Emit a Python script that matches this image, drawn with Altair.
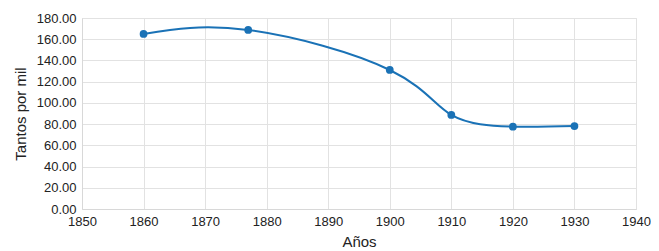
import altair as alt
import pandas as pd

years = [1860, 1877, 1900, 1910, 1920, 1930]
values = [165.0, 168.7, 131.0, 88.6, 77.6, 78.2]

df = pd.DataFrame({"year": years, "value": values})

color = "#1a72b6"
font = "Liberation Sans"

x = alt.X("year:Q", title="Años",
          scale=alt.Scale(domain=[1850, 1940], nice=False, zero=False),
          axis=alt.Axis(values=list(range(1850, 1941, 10)), format="d",
                        labelFontSize=13, titleFontSize=15, titlePadding=6,
                        labelPadding=6, ticks=False, labelFlush=False))
y = alt.Y("value:Q", title="Tantos por mil",
          scale=alt.Scale(domain=[0, 180], nice=False),
          axis=alt.Axis(values=list(range(0, 181, 20)), format=".2f",
                        labelFontSize=13, titleFontSize=15, titlePadding=8,
                        labelPadding=6, ticks=False))

base = alt.Chart(df)
line = base.mark_line(color=color, strokeWidth=2, interpolate="natural").encode(x=x, y=y)
pts = base.mark_circle(color=color, size=60, opacity=1).encode(x=x, y=y)

chart = (line + pts).properties(
    width=554, height=191,
    autosize=alt.AutoSizeParams(type="none"),
    padding={"left": 74, "top": 10, "right": 15, "bottom": 40},
).configure_axis(
    labelFont=font, titleFont=font, labelColor="#222", titleColor="#222",
    titleFontWeight="normal", gridColor="#e2e2e2", domainColor="#d8d8d8",
    gridWidth=1, domainWidth=1,
).configure_view(stroke="#e2e2e2")

chart.save("out.html", embed_options={"renderer": "svg", "actions": False})
